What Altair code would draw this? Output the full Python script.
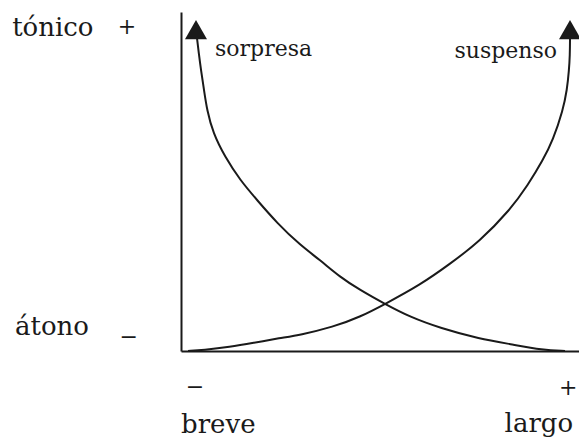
import altair as alt
import pandas as pd

# Curve points (x: duración 0-100, y: tonicidad 0-100)
sorpresa_x = [3.97, 4.47, 4.96, 5.71, 6.45, 7.94, 10.92, 14.64, 18.86, 23.82, 29.53, 34.49, 39.45,
              44.42, 50.62, 56.82, 64.27, 74.19, 81.64, 89.83, 95.29]
sorpresa_y = [92.33, 87.32, 82.89, 76.99, 71.09, 64.31, 57.23, 50.44, 44.54, 37.76, 31.27, 26.84, 21.83,
              17.99, 13.86, 10.03, 6.78, 3.54, 2.06, 0.29, 0.0]
suspenso_x = [1.74, 5.46, 12.16, 17.87, 24.57, 29.53, 37.72, 44.42, 50.62, 59.31, 66.75, 74.19, 81.64,
              86.10, 89.83, 92.31, 94.79, 95.78, 96.28, 96.50, 96.53]
suspenso_y = [0.0, 0.29, 1.18, 2.36, 3.83, 4.72, 7.08, 10.03, 13.86, 19.47, 25.66, 32.45, 41.59,
              48.97, 56.34, 62.24, 71.09, 76.99, 82.89, 87.32, 92.33]

arrow_series = ["sorpresa", "suspenso"]
arrow_x = [3.72, 96.53]
arrow_y = [94.8, 94.8]

axis_text = ["tónico", "átono", "breve"]
axis_x = [-41.9, -41.2, 0.0]
axis_y = [92.9, 4.7, -24.2]

curve_text = ["sorpresa", "suspenso"]
curve_x = [8.44, 93.3]
curve_y = [87.0, 86.4]

right_text = ["largo"]
right_x = [97.3]
right_y = [-23.9]

sign_text = ["+", "−", "−", "+"]
sign_x = [-13.4, -13.0, 3.47, 96.1]
sign_y = [95.6, 4.1, -10.6, -10.9]

INK = "#1a1a1a"
FONT = "DejaVu Serif"
FS = 26

curves = pd.DataFrame({
    "serie": ["sorpresa"] * len(sorpresa_x) + ["suspenso"] * len(suspenso_x),
    "x": sorpresa_x + suspenso_x,
    "y": sorpresa_y + suspenso_y,
})
arrows = pd.DataFrame({"serie": arrow_series, "x": arrow_x, "y": arrow_y})
axis_df = pd.DataFrame({"t": axis_text, "x": axis_x, "y": axis_y})
curve_df = pd.DataFrame({"t": curve_text, "x": curve_x, "y": curve_y})
right_df = pd.DataFrame({"t": right_text, "x": right_x, "y": right_y})
sign_df = pd.DataFrame({"t": sign_text, "x": sign_x, "y": sign_y})

xs = alt.Scale(domain=[0, 98.76], nice=False, zero=False)
ys = alt.Scale(domain=[0, 100], nice=False, zero=False)

AX = alt.Axis(domain=True, ticks=False, labels=False, grid=False, title=None,
              domainColor=INK, domainWidth=2, domainOpacity=1)

X = alt.X("x:Q", scale=xs, axis=AX)
Y = alt.Y("y:Q", scale=ys, axis=AX)

lines = alt.Chart(curves).mark_line(color=INK, strokeWidth=2, interpolate="basis", clip=False).encode(
    x=X, y=Y, detail="serie:N",
)

heads = alt.Chart(arrows).mark_point(shape="triangle-up", size=484, filled=True, color=INK,
                                     opacity=1, clip=False).encode(x=X, y=Y)

def text_layer(df, align, baseline, size=FS, weight="normal"):
    return alt.Chart(df).mark_text(font=FONT, fontSize=size, fontWeight=weight, color=INK,
                                   align=align, baseline=baseline, clip=False).encode(
        x=X, y=Y, text="t:N",
    )

chart = alt.layer(
    lines,
    heads,
    text_layer(axis_df, "left", "alphabetic"),
    text_layer(curve_df.iloc[:1], "left", "alphabetic", size=22),
    text_layer(curve_df.iloc[1:], "right", "alphabetic", size=22),
    text_layer(right_df, "right", "alphabetic"),
    text_layer(sign_df, "center", "middle", size=22, weight="lighter"),
).properties(
    width=398,
    height=339,
    padding={"left": 173, "top": 4, "right": 0, "bottom": 88},
    autosize=alt.AutoSizeParams(type="none"),
    background="white",
).configure_view(strokeWidth=0).configure_axis(domain=True, domainColor=INK, domainWidth=2)

chart.save("out.html", embed_options={"renderer": "svg", "actions": False})
